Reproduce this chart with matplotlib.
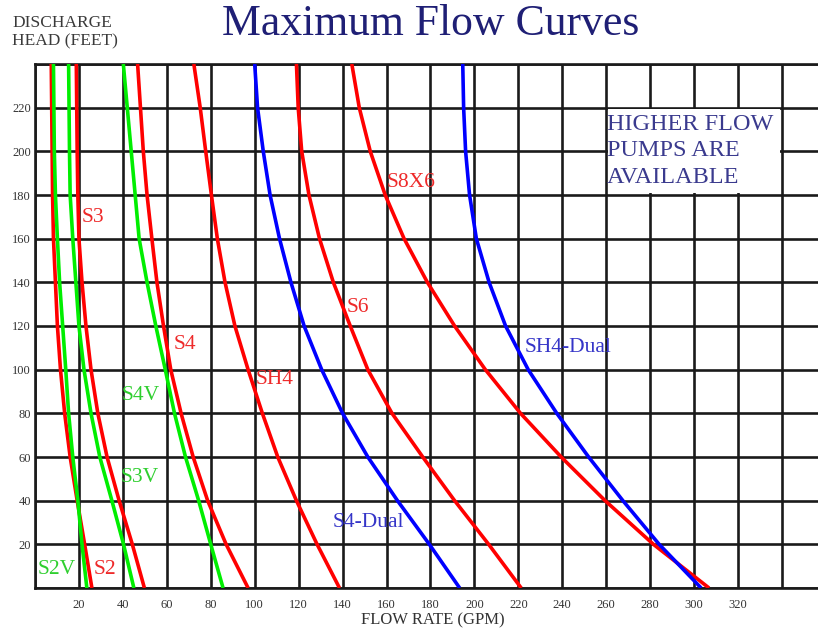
import matplotlib
matplotlib.use('Agg')
import matplotlib.pyplot as plt
from matplotlib.patches import Rectangle
import numpy as np

# discharge head (feet), bottom to top
heads = [0, 20, 40, 60, 80, 100, 120, 140, 160, 180, 200, 220, 240]

# flow rate (GPM) read at each head
s2v = [23.6, 21.4, 19.5, 17.2, 15.3, 14.0, 12.6, 11.2, 10.2, 9.3, 8.8, 8.6, 8.4]
s2 = [25.9, 22.6, 19.2, 16.0, 13.5, 11.6, 10.2, 9.3, 8.4, 8.0, 7.8, 7.6, 7.4]
s3v = [45.0, 40.3, 35.0, 29.5, 25.5, 22.3, 20.0, 18.6, 17.2, 16.0, 15.7, 15.5, 15.3]
s3 = [49.8, 44.3, 38.3, 32.8, 28.6, 25.5, 23.2, 21.4, 20.0, 19.5, 19.2, 19.0, 18.8]
s4v = [85.6, 80.0, 74.5, 68.5, 63.5, 59.3, 55.0, 51.0, 47.4, 45.6, 43.8, 42.0, 40.2]
s4 = [97.0, 87.0, 78.6, 72.0, 66.5, 61.8, 58.5, 55.5, 53.2, 51.0, 49.3, 48.0, 46.7]
sh4 = [138.6, 128.4, 119.0, 110.5, 103.5, 97.0, 91.0, 86.5, 83.0, 80.3, 77.7, 75.2, 72.3]
s4_dual = [193.3, 179.5, 165.0, 151.5, 140.0, 130.5, 122.5, 116.5, 111.3, 107.0, 103.9, 101.3, 100.0]
s6 = [221.3, 206.5, 191.0, 176.5, 162.5, 151.5, 143.5, 135.8, 129.5, 124.7, 121.4, 119.8, 119.0]
s8x6 = [306.8, 281.5, 259.5, 239.5, 221.0, 205.0, 191.0, 178.6, 168.0, 159.4, 152.6, 147.6, 144.2]
sh4_dual = [303.2, 284.1, 267.6, 252.0, 237.5, 224.5, 214.2, 206.7, 200.9, 197.8, 196.0, 195.1, 194.7]

x_ticks = list(range(0, 341, 20))
y_ticks = list(range(0, 241, 20))

RED = '#ff0000'
GREEN = '#00ee00'
BLUE = '#0000ff'

series = [
	(s2, RED), (s2v, GREEN), (s3v, GREEN), (s3, RED),
	(s4v, GREEN), (s4, RED), (sh4, RED), (s4_dual, BLUE),
	(s6, RED), (s8x6, RED), (sh4_dual, BLUE),
]

# label, x, y, colour
labels = [
	('S3', 21.4, 169.5, '#ee2a2a'),
	('S4', 63.3, 111.3, '#ee2a2a'),
	('S4V', 39.5, 88, '#2fcf2f'),
	('SH4', 100.5, 95.3, '#ee2a2a'),
	('S3V', 39, 50.4, '#2fcf2f'),
	('S2V', 1.4, 8.7, '#2fcf2f'),
	('S2', 26.8, 8.7, '#ee2a2a'),
	('S4-Dual', 135.5, 29.8, '#3535c8'),
	('S6', 141.8, 128.3, '#ee2a2a'),
	('S8X6', 160, 185.5, '#ee2a2a'),
	('SH4-Dual', 223, 110, '#3535c8'),
]

plt.rcParams['font.family'] = ['Liberation Serif', 'DejaVu Serif']

fig = plt.figure(figsize=(8.18, 6.34), dpi=100)
ax = fig.add_axes([35 / 818, 1 - 588 / 634, 783 / 818, 524 / 634])

for xs, c in series:
	ax.plot(xs, heads, color=c, linewidth=2.6, solid_capstyle='butt', zorder=3)

ax.set_xlim(0, 356.4)
ax.set_ylim(0, 240)
ax.set_xticks(x_ticks)
ax.set_xticklabels([str(v) if 0 < v < 340 else '' for v in x_ticks])
ax.set_yticks(y_ticks)
ax.set_yticklabels([str(v) if 0 < v < 240 else '' for v in y_ticks])
ax.tick_params(length=0, labelsize=9, colors='#333333', pad=8)
ax.tick_params(axis='y', pad=3)
ax.grid(True, color='#1a1a1a', linewidth=1.9, zorder=1)
ax.set_axisbelow(True)
for side in ['left', 'bottom', 'top']:
	ax.spines[side].set_color('#1a1a1a')
	ax.spines[side].set_linewidth(1.9)
ax.spines['right'].set_visible(False)

for name, lx, ly, c in labels:
	ax.text(lx, ly, name, color=c, fontsize=15.5, ha='left', va='center', zorder=4)

# white box behind the note hides the inner grid lines
ax.add_patch(Rectangle((260.8, 180.7), 78.4, 38.6, facecolor='white',
	edgecolor='none', zorder=2))
ax.text(260.4, 217.0, 'HIGHER FLOW\nPUMPS ARE\nAVAILABLE', color='#3a3a8e',
	fontsize=17.5, ha='left', va='top', linespacing=1.33, zorder=4)

fig.text(431 / 818, 1 - 24 / 634, 'Maximum Flow Curves', color='#1f1f75',
	fontsize=31.5, ha='center', va='center')
fig.text(12 / 818, 1 - 15 / 634, 'DISCHARGE\nHEAD (FEET)', color='#3a3a3a',
	fontsize=12.5, ha='left', va='top', linespacing=1.2)
fig.text(433 / 818, 1 - 620 / 634, 'FLOW RATE (GPM)', color='#333333',
	fontsize=12, ha='center', va='center')

plt.savefig('out.png', dpi=100)
